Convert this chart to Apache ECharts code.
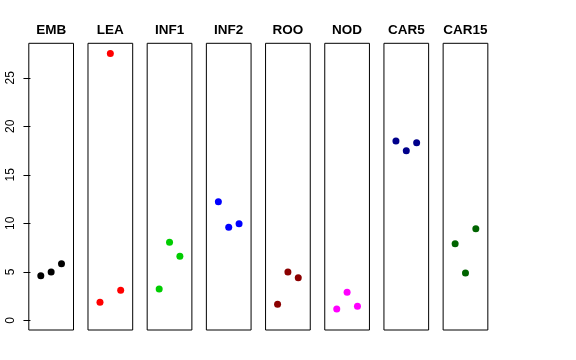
<!DOCTYPE html>
<html>
<head>
<meta charset="utf-8">
<style>html,body{margin:0;padding:0;background:#fff;}#c{width:576px;height:360px;}</style>
<script src="https://cdn.jsdelivr.net/npm/echarts@6/dist/echarts.min.js"></script>
</head>
<body>
<div id="c"></div>
<script>
var categories = ['EMB', 'LEA', 'INF1', 'INF2', 'ROO', 'NOD', 'CAR5', 'CAR15'];
var positions = [1, 2, 3];
var EMB = [4.60, 4.98, 5.84];
var LEA = [1.86, 27.5, 3.09];
var INF1 = [3.23, 8.04, 6.60];
var INF2 = [12.23, 9.59, 9.96];
var ROO = [1.65, 4.98, 4.39];
var NOD = [1.16, 2.89, 1.44];
var CAR5 = [18.48, 17.49, 18.31];
var CAR15 = [7.90, 4.88, 9.44];
var yTicks = [0, 5, 10, 15, 20, 25];
var colors = ['#000000', '#FF0000', '#00CD00', '#0000FF', '#8B0000', '#FF00FF', '#00008B', '#006400'];
var values = [EMB, LEA, INF1, INF2, ROO, NOD, CAR5, CAR15];

(function () {
  var chart = echarts.init(document.getElementById('c'), null, {renderer: 'canvas'});
  var FONT = 'Liberation Sans, Arial, Helvetica, sans-serif';
  var grids = [], xAxes = [], yAxes = [], series = [], graphics = [];
  var left0 = 28.8, step = 59.19, w = 44.7, gTop = 43.3, gBottom = 330;
  for (var i = 0; i < categories.length; i++) {
    var l = left0 + step * i;
    grids.push({left: l, top: gTop, width: w, height: gBottom - gTop, show: true,
      borderColor: '#000', borderWidth: 1, backgroundColor: 'transparent'});
    xAxes.push({type: 'value', gridIndex: i, min: -0.16, max: 4.16, show: false});
    yAxes.push({type: 'value', gridIndex: i, min: -1.0, max: 28.56,
      show: i === 0,
      splitLine: {show: false},
      axisLine: {show: false},
      axisTick: {show: i === 0, length: 7, lineStyle: {color: '#000', width: 1}, customValues: yTicks},
      axisLabel: {show: i === 0, rotate: 90, margin: 12, color: '#000', fontSize: 12, fontFamily: FONT, customValues: yTicks}
    });
    series.push({type: 'scatter', xAxisIndex: i, yAxisIndex: i, symbol: 'circle', symbolSize: 7,
      itemStyle: {color: colors[i], opacity: 1},
      data: positions.map(function (p, k) { return [p, values[i][k]]; }),
      silent: true, animation: false});
    graphics.push({type: 'text', x: l + w / 2, y: 37.5,
      style: {text: categories[i], textAlign: 'center', textVerticalAlign: 'bottom',
        font: 'bold 13.5px ' + FONT, fill: '#000'}});
  }
  chart.setOption({
    animation: false,
    backgroundColor: '#fff',
    grid: grids, xAxis: xAxes, yAxis: yAxes, series: series,
    graphic: graphics
  });
})();
</script>
</body>
</html>
